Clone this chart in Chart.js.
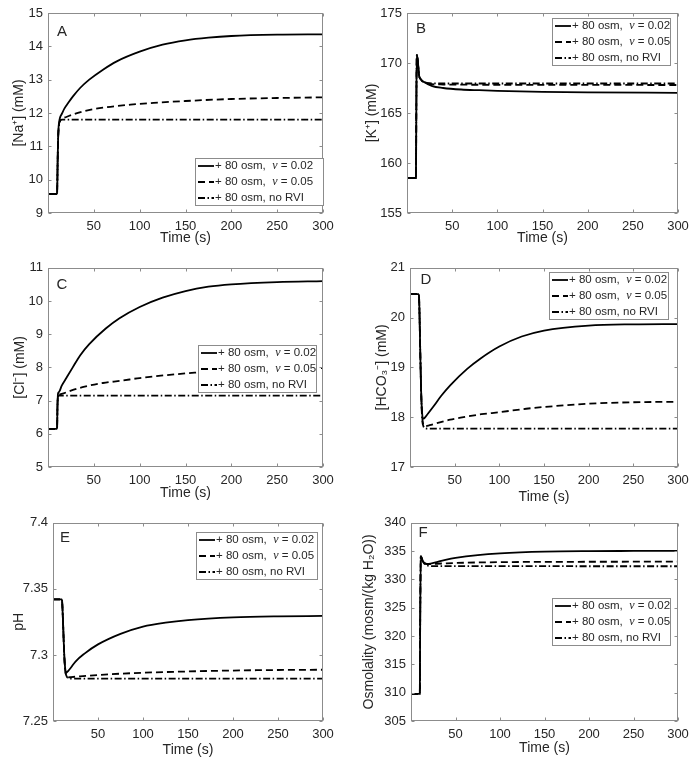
<!DOCTYPE html>
<html>
<head>
<meta charset="utf-8">
<script src="https://cdn.jsdelivr.net/npm/chart.js@4/dist/chart.umd.min.js"></script>
<style>
  body { margin: 0; background: #fff; }
  #fig { position: relative; width: 697px; height: 768px; }
  #fig canvas { position: absolute; }
</style>
</head>
<body>
<div id="fig"></div>
<script>
// legend labels + x ticks shared by all panels
const seriesLabels = ['+ 80 osm,  ν = 0.02', '+ 80 osm,  ν = 0.05', '+ 80 osm, no RVI'];
const xTicks = [50, 100, 150, 200, 250, 300];

// A: [Na+]
const naTicks = [9, 10, 11, 12, 13, 14, 15];
const naT1 = [0, 9.9, 10.5, 11, 11.5, 12, 13, 15, 18, 22, 27, 35, 45, 60, 75, 100, 125, 150, 175, 200, 250, 300];
const naV1 = [9.57, 9.57, 10.5, 11.2, 11.55, 11.7, 11.85, 11.97, 12.14, 12.3, 12.49, 12.75, 13.0, 13.3, 13.55, 13.84, 14.05, 14.18, 14.26, 14.31, 14.35, 14.36];
const naT2 = [0, 9.9, 10.5, 11, 12, 13, 15, 20, 30, 40, 60, 90, 120, 150, 200, 250, 300];
const naV2 = [9.57, 9.57, 10.5, 11.2, 11.65, 11.75, 11.82, 11.88, 11.98, 12.06, 12.16, 12.25, 12.31, 12.36, 12.42, 12.45, 12.47];
const naT3 = [0, 9.9, 10.5, 11, 12, 13, 15, 300];
const naV3 = [9.57, 9.57, 10.5, 11.2, 11.65, 11.75, 11.8, 11.8];

// B: [K+]
const kTicks = [155, 160, 165, 170, 175];
const kT1 = [0, 9.9, 10.3, 10.8, 12, 13.3, 15, 19, 28, 40, 60, 80, 100, 150, 200, 300];
const kV1 = [158.5, 158.5, 165, 170.8, 170.2, 168.8, 168.4, 168.1, 167.68, 167.5, 167.35, 167.28, 167.22, 167.12, 167.06, 167.02];
const kT2 = [0, 9.9, 10.3, 10.8, 12, 13.3, 15, 19, 25, 40, 100, 300];
const kV2 = [158.5, 158.5, 165, 170.8, 170.2, 168.8, 168.4, 168.05, 167.9, 167.85, 167.82, 167.8];
const kT3 = [0, 9.9, 10.3, 10.8, 12, 13.3, 15, 19, 25, 40, 300];
const kV3 = [158.5, 158.5, 165, 170.8, 170.2, 168.8, 168.4, 168.1, 167.98, 167.95, 167.95];

// C: [Cl-]
const clTicks = [5, 6, 7, 8, 9, 10, 11];
const clT1 = [0, 9.9, 10.3, 11, 12, 15, 20, 27, 35, 45, 63, 78, 100, 125, 150, 175, 200, 250, 300];
const clV1 = [6.15, 6.15, 6.8, 7.22, 7.26, 7.45, 7.68, 8.0, 8.36, 8.7, 9.17, 9.48, 9.82, 10.1, 10.3, 10.43, 10.5, 10.57, 10.6];
const clT2 = [0, 9.9, 10.3, 11, 12, 15, 25, 40, 60, 80, 100, 130, 160, 200, 250, 300];
const clV2 = [6.15, 6.15, 6.8, 7.15, 7.18, 7.2, 7.3, 7.42, 7.53, 7.6, 7.68, 7.77, 7.84, 7.9, 7.95, 7.98];
const clT3 = [0, 9.9, 10.3, 11, 12, 300];
const clV3 = [6.15, 6.15, 6.8, 7.12, 7.15, 7.15];

// D: [HCO3-]
const hcoTicks = [17, 18, 19, 20, 21];
const hcoT1 = [0, 9.9, 10.5, 11.5, 12.5, 13.5, 14.5, 16, 20, 26, 35, 45, 64, 79, 100, 125, 150, 200, 250, 300];
const hcoV1 = [20.47, 20.47, 20.2, 19.3, 18.5, 18.1, 17.97, 17.98, 18.07, 18.21, 18.43, 18.64, 18.97, 19.18, 19.42, 19.62, 19.74, 19.84, 19.865, 19.87];
const hcoT2 = [0, 9.9, 10.5, 11.5, 12.5, 13.5, 15, 17, 22, 30, 45, 60, 80, 100, 130, 160, 200, 250, 300];
const hcoV2 = [20.47, 20.47, 20.2, 19.3, 18.5, 18.05, 17.85, 17.82, 17.84, 17.88, 17.95, 18.0, 18.06, 18.1, 18.17, 18.22, 18.27, 18.3, 18.31];
const hcoT3 = [0, 9.9, 10.5, 11.5, 12.5, 13.5, 15, 17, 20, 300];
const hcoV3 = [20.47, 20.47, 20.2, 19.3, 18.5, 18.0, 17.82, 17.78, 17.77, 17.77];

// E: pH
const phTicks = [7.25, 7.3, 7.35, 7.4];
const phT1 = [0, 9.9, 10.5, 11.5, 12.5, 13.5, 14.5, 17, 20, 25, 35, 50, 75, 100, 125, 150, 200, 250, 300];
const phV1 = [7.342, 7.342, 7.336, 7.318, 7.3, 7.29, 7.2865, 7.288, 7.2905, 7.295, 7.301, 7.308, 7.316, 7.3215, 7.3245, 7.3264, 7.3284, 7.3292, 7.3295];
const phT2 = [0, 9.9, 10.5, 11.5, 12.5, 13.5, 15, 17, 20, 30, 50, 75, 100, 150, 200, 250, 300];
const phV2 = [7.342, 7.342, 7.336, 7.318, 7.3, 7.289, 7.284, 7.283, 7.2832, 7.2838, 7.2848, 7.2858, 7.2865, 7.2875, 7.2882, 7.2886, 7.2888];
const phT3 = [0, 9.9, 10.5, 11.5, 12.5, 13.5, 15, 17, 20, 300];
const phV3 = [7.342, 7.342, 7.336, 7.318, 7.3, 7.289, 7.284, 7.2825, 7.282, 7.282];

// F: osmolality
const osmTicks = [305, 310, 315, 320, 325, 330, 335, 340];
const osmT1 = [0, 9.9, 10.3, 11, 12, 13, 15, 18, 22, 30, 40, 50, 75, 100, 150, 200, 250, 300];
const osmV1 = [309.8, 309.8, 322, 334.1, 333.8, 333.3, 332.9, 332.75, 332.8, 333.1, 333.5, 333.8, 334.3, 334.6, 334.9, 335.0, 335.03, 335.05];
const osmT2 = [0, 9.9, 10.3, 11, 12, 13, 15, 18, 25, 40, 60, 100, 150, 200, 300];
const osmV2 = [309.8, 309.8, 322, 334.1, 333.8, 333.3, 332.9, 332.7, 332.75, 332.85, 332.95, 333.05, 333.1, 333.12, 333.13];
const osmT3 = [0, 9.9, 10.3, 11, 12, 13, 15, 18, 25, 300];
const osmV3 = [309.8, 309.8, 322, 334.1, 333.8, 333.3, 332.8, 332.5, 332.35, 332.33];

const FONT = "'Liberation Sans', Arial, sans-serif";
const INK = '#262626';
const dashes = [[], [7, 4], [7, 2.5, 1.5, 2.5]];

Chart.defaults.font.family = FONT;
Chart.defaults.color = INK;

// layout of each panel (canvas placement, axis box, legend box)
const panels = [
  { letter: 'A', left: 0, top: 0, w: 348, h: 255, yw: 48, pt: 13, pr: 25, xh: 42, ytPad: 11, xtPad: 8,
    yTicks: naTicks, yTitle: '[Na⁺] (mM)', letterAt: [14, 19], legend: { x: 195, y: 158, w: 128 },
    series: [[naT1, naV1], [naT2, naV2], [naT3, naV3]] },
  { letter: 'B', left: 348, top: 0, w: 349, h: 255, yw: 59, pt: 13, pr: 19, xh: 42, ytPad: 16, xtPad: 8,
    yTicks: kTicks, yTitle: '[K⁺] (mM)', letterAt: [14, 16], legend: { x: 204, y: 18, w: 118 },
    series: [[kT1, kV1], [kT2, kV2], [kT3, kV3]] },
  { letter: 'C', left: 0, top: 255, w: 348, h: 255, yw: 48, pt: 12, pr: 25, xh: 43, ytPad: 12, xtPad: 8,
    yTicks: clTicks, yTitle: '[Cl⁻] (mM)', letterAt: [14, 17], legend: { x: 198, y: 90, w: 118 },
    series: [[clT1, clV1], [clT2, clV2], [clT3, clV3]] },
  { letter: 'D', left: 348, top: 255, w: 349, h: 255, yw: 62, pt: 12, pr: 19, xh: 43, ytPad: 26, xtPad: 4,
    yTicks: hcoTicks, yTitle: '[HCO₃⁻] (mM)', letterAt: [16, 12], legend: { x: 201, y: 17, w: 119 },
    series: [[hcoT1, hcoV1], [hcoT2, hcoV2], [hcoT3, hcoV3]] },
  { letter: 'E', left: 0, top: 510, w: 348, h: 258, yw: 53, pt: 10, pr: 25, xh: 47, ytPad: 11, xtPad: 9,
    yTicks: phTicks, yTitle: 'pH', letterAt: [12, 15], legend: { x: 196, y: 22, w: 121 },
    series: [[phT1, phV1], [phT2, phV2], [phT3, phV3]] },
  { letter: 'F', left: 348, top: 510, w: 349, h: 258, yw: 63, pt: 10, pr: 19, xh: 47, ytPad: 13, xtPad: 11,
    yTicks: osmTicks, yTitle: 'Osmolality (mosm/(kg H₂O))', letterAt: [12, 10], legend: { x: 204, y: 88, w: 118 },
    series: [[osmT1, osmV1], [osmT2, osmV2], [osmT3, osmV3]] }
];

// box, inward ticks, panel letter and a MATLAB-like legend
const matlabAxes = {
  id: 'matlabAxes',
  afterDraw(chart, args, o) {
    const { ctx, chartArea: a, scales } = chart;
    const L = Math.round(a.left) + 0.5, R = Math.round(a.right) - 0.5;
    const T = Math.round(a.top) + 0.5, B = Math.round(a.bottom) - 0.5;
    const tl = 3;
    ctx.save();
    ctx.strokeStyle = '#8c8c8c';
    ctx.lineWidth = 1;
    ctx.strokeRect(L, T, R - L, B - T);
    ctx.beginPath();
    scales.x.ticks.forEach(t => {
      const px = Math.round(scales.x.getPixelForValue(t.value)) + 0.5;
      ctx.moveTo(px, B); ctx.lineTo(px, B - tl);
      ctx.moveTo(px, T); ctx.lineTo(px, T + tl);
    });
    scales.y.ticks.forEach(t => {
      const py = Math.round(scales.y.getPixelForValue(t.value)) + 0.5;
      ctx.moveTo(L, py); ctx.lineTo(L + tl, py);
      ctx.moveTo(R, py); ctx.lineTo(R - tl, py);
    });
    ctx.stroke();

    // panel letter
    ctx.fillStyle = INK;
    ctx.font = '15px ' + FONT;
    ctx.textAlign = 'center';
    ctx.textBaseline = 'middle';
    ctx.fillText(o.letter, a.left + o.letterAt[0], a.top + o.letterAt[1]);

    // legend
    const lg = o.legend;
    const rowH = 16;
    ctx.fillStyle = '#fff';
    ctx.fillRect(lg.x, lg.y, lg.w, 47);
    ctx.strokeStyle = '#8c8c8c';
    ctx.strokeRect(Math.round(lg.x) + 0.5, Math.round(lg.y) + 0.5, lg.w, 47);
    chart.data.datasets.forEach((ds, i) => {
      const cy = lg.y + 8 + i * rowH;
      ctx.strokeStyle = '#000';
      ctx.lineWidth = 1.8;
      ctx.setLineDash(ds.borderDash || []);
      ctx.beginPath();
      ctx.moveTo(lg.x + 3, cy); ctx.lineTo(lg.x + 19, cy);
      ctx.stroke();
      ctx.setLineDash([]);
      ctx.fillStyle = INK;
      ctx.textAlign = 'left';
      let x = lg.x + 20;
      const parts = ds.label.split('ν');
      parts.forEach((p, k) => {
        ctx.font = '11.5px ' + FONT;
        ctx.fillText(p, x, cy);
        x += ctx.measureText(p).width;
        if (k < parts.length - 1) {
          ctx.font = "italic 12px 'Liberation Serif', serif";
          ctx.fillText('ν', x, cy);
          x += ctx.measureText('ν').width;
        }
      });
    });
    ctx.restore();
  }
};

const fig = document.getElementById('fig');

panels.forEach(p => {
  const cv = document.createElement('canvas');
  cv.width = p.w; cv.height = p.h;
  cv.style.left = p.left + 'px';
  cv.style.top = p.top + 'px';
  fig.appendChild(cv);

  new Chart(cv, {
    type: 'line',
    data: {
      datasets: p.series.map(([ts, vs], i) => ({
        label: seriesLabels[i],
        data: ts.map((t, k) => ({ x: t, y: vs[k] })),
        borderColor: '#000',
        borderWidth: 1.8,
        borderDash: dashes[i],
        pointRadius: 0,
        cubicInterpolationMode: 'monotone',
        fill: false
      }))
    },
    options: {
      responsive: false,
      animation: false,
      layout: { padding: { top: p.pt, right: p.pr, left: 0, bottom: 0 } },
      plugins: {
        legend: { display: false },
        tooltip: { enabled: false },
        matlabAxes: { letter: p.letter, letterAt: p.letterAt, legend: p.legend }
      },
      scales: {
        x: {
          type: 'linear', min: 0, max: 300,
          afterBuildTicks: s => { s.ticks = xTicks.map(v => ({ value: v })); },
          afterFit: s => { s.height = p.xh; },
          grid: { display: false, drawTicks: false },
          border: { display: false },
          ticks: { font: { size: 13 }, color: INK, padding: 6, maxRotation: 0, callback: v => String(v) },
          title: { display: true, text: 'Time (s)', font: { size: 14 }, color: INK, padding: { top: 0, bottom: p.xtPad } }
        },
        y: {
          type: 'linear', min: p.yTicks[0], max: p.yTicks[p.yTicks.length - 1],
          afterBuildTicks: s => { s.ticks = p.yTicks.map(v => ({ value: v })); },
          afterFit: s => { s.width = p.yw; },
          grid: { display: false, drawTicks: false },
          border: { display: false },
          ticks: { font: { size: 13 }, color: INK, padding: 5, callback: v => String(v) },
          title: { display: true, text: p.yTitle, font: { size: 14 }, color: INK, padding: { top: p.ytPad, bottom: 0 } }
        }
      }
    },
    plugins: [matlabAxes]
  });
});
</script>
</body>
</html>
